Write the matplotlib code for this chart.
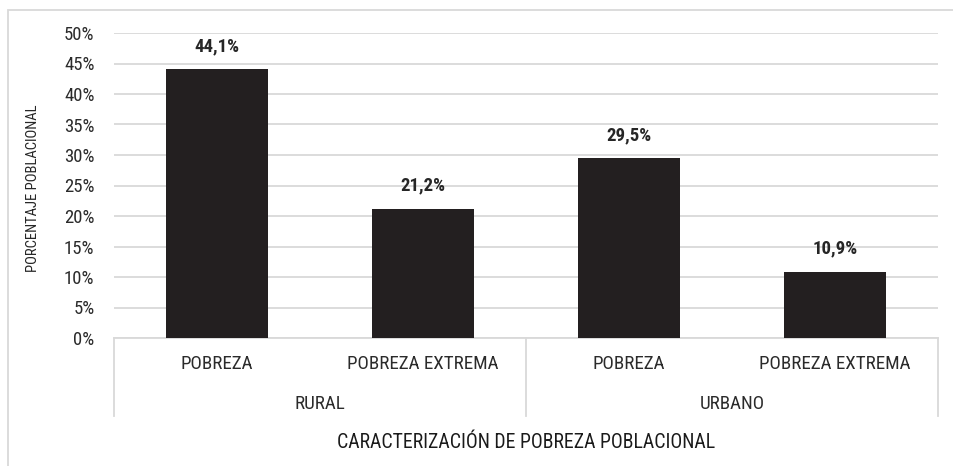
import matplotlib
matplotlib.use("Agg")
import matplotlib.pyplot as plt
from matplotlib.patches import Rectangle
from matplotlib.lines import Line2D

# datos
categorias = ["POBREZA", "POBREZA EXTREMA", "POBREZA", "POBREZA EXTREMA"]
grupos = ["RURAL", "URBANO"]
valores = [44.1, 21.2, 29.5, 10.9]
etiquetas = ["44,1%", "21,2%", "29,5%", "10,9%"]
ticks_y = [0, 5, 10, 15, 20, 25, 30, 35, 40, 45, 50]

plt.rcParams['font.family'] = ['Roboto Condensed', 'Barlow Condensed', 'DejaVu Sans']

W, H = 954, 466
fig = plt.figure(figsize=(W / 100, H / 100), dpi=100)
ax = fig.add_axes([114 / W, 1 - 338 / H, (938 - 114) / W, (338 - 33) / H])

x = list(range(len(valores)))
ax.bar(x, valores, width=0.495, color='#231f20', zorder=3)
for xi, v, t in zip(x, valores, etiquetas):
    ax.text(xi, v + 2.3, t, ha='center', va='bottom', fontsize=13.5,
            fontweight='bold', color='#262626')

ax.set_xlim(-0.5, 3.5)
ax.set_ylim(0, 50)
ax.set_yticks(ticks_y)
ax.set_yticklabels([f"{t}%" for t in ticks_y], fontsize=13.5, color='#2b2b2b')
ax.tick_params(axis='y', length=0, pad=14)
ax.set_xticks([])
ax.yaxis.grid(True, color='#d9d9d9', linewidth=1.3, zorder=0)
for s in ax.spines.values():
    s.set_visible(False)

fig.text(33 / W, 1 - 188 / H, "PORCENTAJE POBLACIONAL", rotation=90, ha='center',
         va='center', fontsize=10.5, color='#262626')

# tabla de categorias debajo del eje
tr = ax.get_xaxis_transform()
y_bajo = -(416 - 338) / (338 - 33)
ax.add_line(Line2D([-0.5, 3.5], [0, 0], transform=tr, color='#d9d9d9', lw=1.3,
                   clip_on=False))
for xv in [-0.5, 1.5, 3.5]:
    ax.add_line(Line2D([xv, xv], [0, y_bajo], transform=tr, color='#d9d9d9',
                       lw=1.3, clip_on=False))
for xi, c in zip(x, categorias):
    ax.text(xi, -(364 - 338) / 305, c, transform=tr, ha='center', va='center',
            fontsize=13.7, color='#2b2b2b')
for gi, g in enumerate(grupos):
    ax.text(gi * 2 + 0.5, -(404 - 338) / 305, g, transform=tr, ha='center',
            va='center', fontsize=13.7, color='#2b2b2b')

fig.text((114 + 938) / 2 / W, 1 - 443 / H, "CARACTERIZACIÓN DE POBREZA POBLACIONAL",
         ha='center', va='center', fontsize=14.2, color='#1a1a1a')

# borde exterior
fig.patches.append(Rectangle((8 / W, -0.1), 1.2, 1.1 - 10 / H, transform=fig.transFigure,
                             fill=False, edgecolor='#d9d9d9', lw=1.3))

fig.savefig("out.png", dpi=100)
